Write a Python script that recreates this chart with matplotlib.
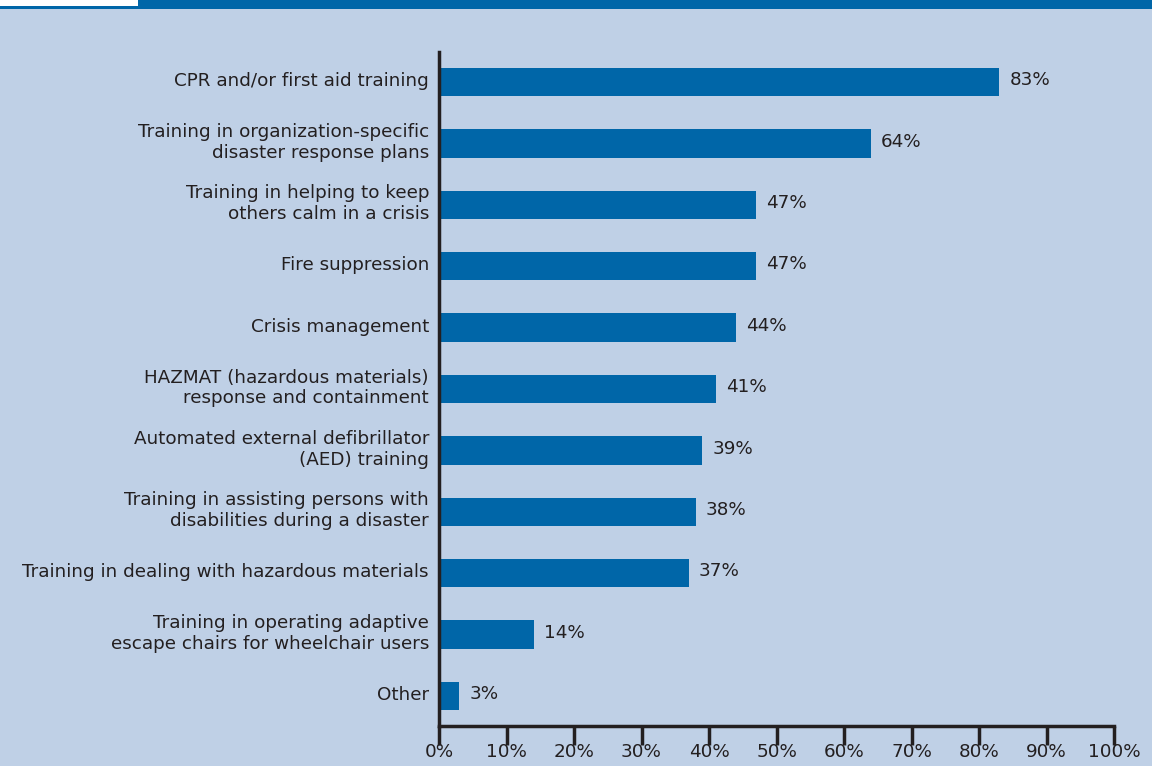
import numpy as np
import matplotlib.pyplot as plt
from matplotlib.patches import Rectangle
from matplotlib.transforms import ScaledTranslation

# training types and share of respondents (%)
labels = [
    "CPR and/or first aid training",
    "Training in organization-specific\ndisaster response plans",
    "Training in helping to keep\nothers calm in a crisis",
    "Fire suppression",
    "Crisis management",
    "HAZMAT (hazardous materials)\nresponse and containment",
    "Automated external defibrillator\n(AED) training",
    "Training in assisting persons with\ndisabilities during a disaster",
    "Training in dealing with hazardous materials",
    "Training in operating adaptive\nescape chairs for wheelchair users",
    "Other",
]
values = [83, 64, 47, 47, 44, 41, 39, 38, 37, 14, 3]
xticks = [0, 10, 20, 30, 40, 50, 60, 70, 80, 90, 100]

bg = '#bfd0e6'
bar_col = '#0066a8'
txt = '#231f20'
fs = 13.2

plt.rcParams['font.family'] = ['DejaVu Sans']

fig = plt.figure(figsize=(11.52, 7.66), dpi=100, facecolor=bg)
ax = fig.add_axes([439/1152, 40/766, 675/1152, 674/766])
ax.set_facecolor(bg)

# header strip
fig.patches.append(Rectangle((0, 1 - 9/766), 1, 9/766, transform=fig.transFigure,
                             facecolor=bar_col, edgecolor='none'))
fig.patches.append(Rectangle((0, 1 - 6/766), 138/1152, 6/766, transform=fig.transFigure,
                             facecolor='white', edgecolor='none'))

y = np.arange(len(values))
ax.barh(y, values, height=0.46, color=bar_col)
for yi, v in zip(y, values):
    ax.text(v + 1.5, yi - 0.03, f"{v}%", va='center', ha='left', fontsize=fs, color=txt)

ax.set_ylim(len(values) - 0.51, -0.49)
ax.set_xlim(0, 100)
ax.set_yticks(y)
ax.set_yticklabels([])
ax.set_xticks(xticks)
ax.set_xticklabels([f"{t}%" for t in xticks], fontsize=fs, color=txt)

# category labels, a bit left of the spine
lab_tr = ax.get_yaxis_transform() + ScaledTranslation(-10/100, 1/100, fig.dpi_scale_trans)
for yi, lab in zip(y, labels):
    ax.text(0, yi, lab, transform=lab_tr, ha='right', va='center', fontsize=fs,
            color=txt, linespacing=1.2)

for s in ['top', 'right']:
    ax.spines[s].set_visible(False)
for s in ['left', 'bottom']:
    ax.spines[s].set_linewidth(2.5)
    ax.spines[s].set_color(txt)
ax.tick_params(axis='y', length=0)
ax.tick_params(axis='x', length=14, width=2.5, color=txt, pad=-2)

plt.savefig('out.png', dpi=100, facecolor=bg)
